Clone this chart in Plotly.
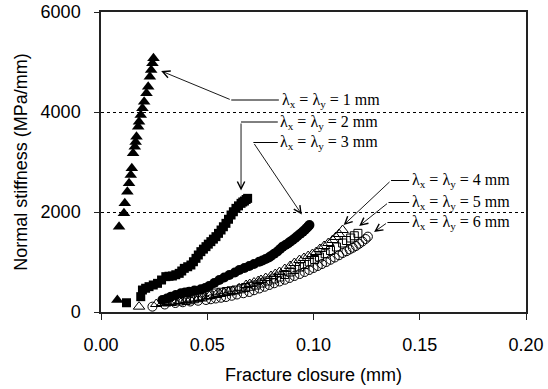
import plotly.graph_objects as go

# 1 mm (filled triangles)
x1 = [0.0077, 0.0085, 0.0108, 0.0112, 0.0124, 0.0132, 0.0140, 0.0145, 0.0151, 0.0159, 0.0163,
      0.0167, 0.0175, 0.0179, 0.0187, 0.0195, 0.0203, 0.0214, 0.0222, 0.0230, 0.0236, 0.0242, 0.0247]
y1 = [240, 1707, 1973, 2173, 2407, 2573, 2740, 2873, 3173, 3307, 3400,
      3507, 3707, 3807, 3940, 4073, 4207, 4373, 4507, 4707, 4840, 4973, 5073]
# 2 mm (filled squares)
x2 = [0.0120, 0.0187, 0.0195, 0.0210, 0.0226, 0.0246, 0.0266, 0.0285, 0.0305, 0.0320,
      0.0336, 0.0352, 0.0368, 0.0380, 0.0392, 0.0408, 0.0423, 0.0435, 0.0447, 0.0458,
      0.0470, 0.0482, 0.0494, 0.0505, 0.0517, 0.0529, 0.0541, 0.0553, 0.0565, 0.0576,
      0.0588, 0.0600, 0.0612, 0.0623, 0.0635, 0.0647, 0.0659, 0.0667, 0.0675, 0.0683, 0.0690]
y2 = [185, 307, 440, 475, 507, 540, 573, 640, 707, 715,
      720, 745, 773, 820, 873, 905, 940, 1005, 1073, 1140,
      1207, 1257, 1307, 1357, 1407, 1457, 1507, 1573, 1640, 1705,
      1773, 1855, 1940, 2005, 2073, 2123, 2173, 2200, 2220, 2250, 2273]
# 3 mm (filled circles)
x3 = [0.0289, 0.0310, 0.0329, 0.0352, 0.0376, 0.0395, 0.0415, 0.0440, 0.0470, 0.0490,
      0.0509, 0.0533, 0.0557, 0.0580, 0.0604, 0.0630, 0.0651, 0.0675, 0.0698, 0.0720,
      0.0745, 0.0760, 0.0775, 0.0790, 0.0800, 0.0815, 0.0830, 0.0843, 0.0855, 0.0868,
      0.0880, 0.0890, 0.0902, 0.0914, 0.0925, 0.0938, 0.0950, 0.0960, 0.0968, 0.0975, 0.0981]
y3 = [240, 270, 307, 340, 373, 390, 407, 430, 453, 480,
      520, 580, 640, 690, 740, 790, 840, 880, 920, 960,
      1007, 1030, 1060, 1090, 1120, 1165, 1210, 1260, 1307, 1340,
      1370, 1405, 1440, 1480, 1520, 1565, 1607, 1645, 1680, 1710, 1740]
# 4 mm (open triangles)
x4 = [0.0179, 0.0260, 0.0290, 0.0320, 0.0345, 0.0370, 0.0400, 0.0420, 0.0440, 0.0460,
      0.0478, 0.0510, 0.0541, 0.0560, 0.0580, 0.0600, 0.0619, 0.0650, 0.0683, 0.0700,
      0.0720, 0.0740, 0.0753, 0.0775, 0.0800, 0.0820, 0.0840, 0.0865, 0.0890, 0.0910,
      0.0934, 0.0955, 0.0975, 0.0995, 0.1013, 0.1030, 0.1050, 0.1070, 0.1090, 0.1105,
      0.1120, 0.1137]
y4 = [107, 160, 180, 200, 210, 220, 240, 255, 270, 280,
      293, 320, 340, 360, 380, 395, 420, 475, 540, 560,
      590, 620, 640, 680, 720, 760, 800, 860, 920, 980,
      1040, 1080, 1120, 1160, 1200, 1260, 1320, 1380, 1440, 1500,
      1560, 1640]
# 5 mm (open squares)
x5 = [0.0310, 0.0335, 0.0370, 0.0400, 0.0420, 0.0440, 0.0460, 0.0478, 0.0510, 0.0541,
      0.0565, 0.0590, 0.0612, 0.0635, 0.0660, 0.0680, 0.0705, 0.0730, 0.0757, 0.0785,
      0.0812, 0.0840, 0.0865, 0.0890, 0.0912, 0.0934, 0.0957, 0.0980, 0.1005, 0.1028,
      0.1055, 0.1080, 0.1108, 0.1137, 0.1155, 0.1175, 0.1192, 0.1209]
y5 = [200, 210, 220, 230, 245, 265, 285, 300, 340, 380,
      395, 410, 425, 440, 465, 490, 515, 540, 580, 620,
      660, 700, 750, 800, 850, 900, 950, 1000, 1050, 1100,
      1165, 1230, 1300, 1380, 1430, 1480, 1525, 1573]
# 6 mm (open circles)
x6 = [0.0242, 0.0300, 0.0350, 0.0385, 0.0420, 0.0457, 0.0494, 0.0517, 0.0540, 0.0565,
      0.0588, 0.0615, 0.0640, 0.0670, 0.0698, 0.0720, 0.0745, 0.0770, 0.0792, 0.0815,
      0.0840, 0.0865, 0.0887, 0.0910, 0.0935, 0.0958, 0.0980, 0.1000, 0.1020, 0.1040,
      0.1060, 0.1080, 0.1100, 0.1120, 0.1137, 0.1155, 0.1170, 0.1185, 0.1200, 0.1215,
      0.1230, 0.1245, 0.1256]
y6 = [107, 150, 180, 195, 210, 225, 240, 255, 270, 285,
      300, 325, 350, 375, 400, 435, 470, 505, 540, 575,
      610, 645, 680, 720, 760, 800, 840, 880, 920, 960,
      1000, 1045, 1090, 1135, 1180, 1215, 1250, 1285, 1320, 1365,
      1410, 1460, 1507]

labels = ["1", "2", "3", "4", "5", "6"]

fig = go.Figure()
series = [
    (x1, y1, "triangle-up", 11, "black", 0),
    (x2, y2, "square", 9, "black", 0),
    (x3, y3, "circle", 10, "black", 0),
    (x4, y4, "triangle-up-open", 10, "black", 1),
    (x5, y5, "square-open", 8, "black", 1),
    (x6, y6, "circle-open", 9, "black", 1),
]
for (xs, ys, sym, sz, col, lw), lab in zip(series, labels):
    fig.add_trace(go.Scatter(
        x=xs, y=ys, mode="markers", name=lab + " mm",
        marker=dict(symbol=sym, size=sz, color=col, line=dict(color="black", width=lw)),
        showlegend=False))

serif = dict(family="Liberation Serif", size=16, color="black")

def label(txt_num, tx, ty, ex, hx, hy):
    text = "λ<sub>x</sub> = λ<sub>y</sub> = %s mm" % txt_num
    fig.add_annotation(x=tx, y=ty, text=text, showarrow=False, xanchor="left",
                       yanchor="middle", font=serif)
    # horizontal leader
    fig.add_shape(type="line", x0=ex, y0=ty, x1=tx - 0.0003, y1=ty,
                  line=dict(color="black", width=1))
    # arrow to the data
    fig.add_annotation(x=hx, y=hy, ax=ex, ay=ty, xref="x", yref="y",
                       axref="x", ayref="y", text="", showarrow=True,
                       arrowhead=5, arrowsize=1.6, arrowwidth=0.9, arrowcolor="black")

label("1", 0.0840, 4240, 0.0613, 0.0283, 4820)
label("2", 0.0835, 3800, 0.0659, 0.0659, 2430)
label("3", 0.0835, 3390, 0.0717, 0.0945, 1950)
label("4", 0.1453, 2630, 0.1365, 0.1142, 1740)
label("5", 0.1453, 2190, 0.1353, 0.1215, 1720)
label("6", 0.1453, 1790, 0.1348, 0.1285, 1600)

sans = dict(family="Liberation Sans", size=18, color="black")
title_font = dict(family="Liberation Sans", size=18, color="black")

fig.update_xaxes(range=[0, 0.2], tickvals=[0, 0.05, 0.1, 0.15, 0.2],
                 ticktext=["0.00", "0.05", "0.10", "0.15", "0.20"],
                 showline=True, mirror=True, linecolor="#222", linewidth=1.5,
                 ticks="outside", ticklen=6, tickcolor="#222", showgrid=False,
                 zeroline=False, tickfont=sans, ticklabelstandoff=10, automargin=False,
                 title=dict(text="Fracture closure (mm)", font=title_font, standoff=14))
fig.update_yaxes(range=[0, 6000], tickvals=[0, 2000, 4000, 6000],
                 showline=True, mirror=True, linecolor="#222", linewidth=1.5,
                 ticks="outside", ticklen=5, tickcolor="#222",
                 showgrid=True, gridcolor="black", gridwidth=1, griddash="dot",
                 zeroline=False, tickfont=sans, ticklabelstandoff=10, automargin=False,
                 title=dict(text="Normal stiffness (MPa/mm)", font=title_font, standoff=8))

fig.update_layout(width=548, height=389, margin=dict(l=101, r=22, t=12, b=77),
                  plot_bgcolor="white", paper_bgcolor="white")

fig.write_html("out.html")
